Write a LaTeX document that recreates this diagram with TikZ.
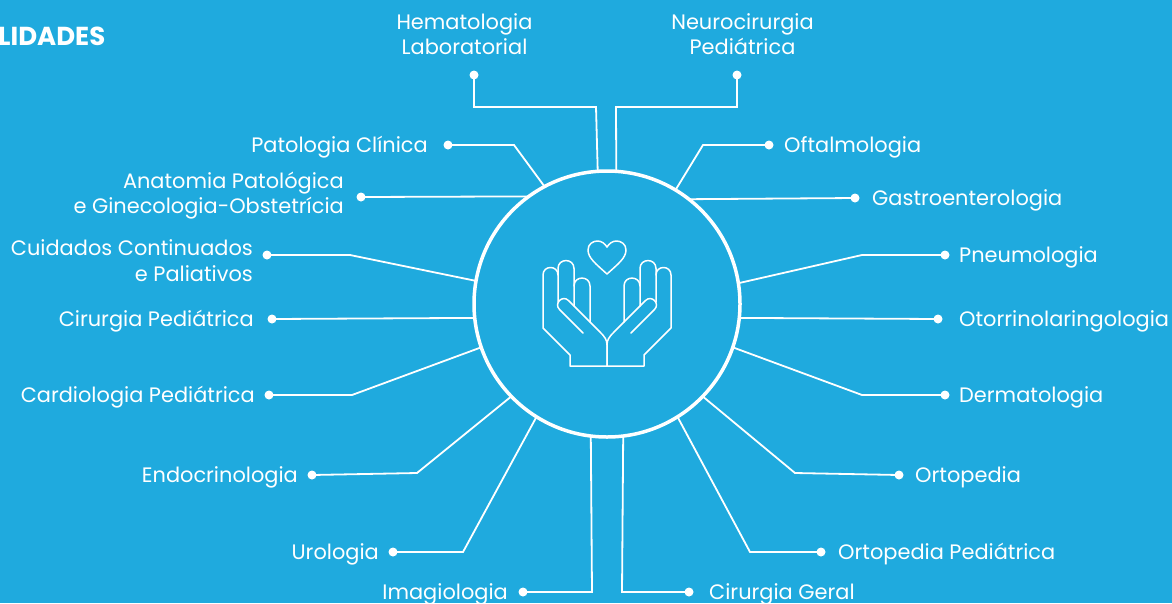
\documentclass[tikz,border=0pt]{standalone}
\usepackage{fontspec}
\setmainfont{Poppins}
\definecolor{bg}{RGB}{31,170,222}
\begin{document}
\begin{tikzpicture}[x=1pt,y=-1pt,
  lbl/.style={text=white, inner sep=0pt, font=\fontsize{20.9}{25}\selectfont},
  conn/.style={draw=white, line width=1.8pt, line join=miter},
  dotnode/.style={circle, fill=white, minimum size=9pt, inner sep=0pt},
  iconline/.style={draw=white, line width=1.5pt, line join=round, line cap=round},
  handpic/.pic={
    \draw[iconline] (607,366) -- (570,366) -- (570,355) -- (543,328) -- (543,275) .. controls (543,265) and (558,265) .. (558,275);
    \draw[iconline] (558,302) -- (558,268.5) .. controls (558,257.9) and (574,257.9) .. (574,268.5) -- (574,306);
    \draw[iconline] (574,286) .. controls (574,275.4) and (590,275.4) .. (590,286) -- (590,322);
    \draw[iconline] (583,333) -- (559.5,309.5) .. controls (553.5,303.5) and (562.5,294.5) .. (568.5,300.5) -- (600,332) .. controls (605,337) and (607,340) .. (607,345) -- (607,366);
  }]
\fill[bg] (0,0) rectangle (1172,603);
\useasboundingbox (0,0) rectangle (1172,603);

% title
\node[text=white, inner sep=0pt, anchor=base west, font=\fontsize{26}{30}\selectfont\bfseries] (title) at (-2,45) {LIDADES};

% hub
\node[circle, draw=white, line width=3.5pt, minimum size=266pt, inner sep=0pt, outer sep=0pt] (hub) at (607,304) {};

% icon
\pic {handpic};
\pic[xshift=1214pt, xscale=-1] {handpic};
\draw[iconline] (607,274) .. controls (596,264) and (588,258) .. (588,250) .. controls (588,244) and (593,241) .. (597.5,241) .. controls (602,241) and (605,244) .. (607,247) .. controls (609,244) and (612,241) .. (616.5,241) .. controls (621,241) and (626,244) .. (626,250) .. controls (626,258) and (618,264) .. (607,274) -- cycle;

% dots
\node[dotnode] (dHem) at (474,75) {};
\node[dotnode] (dNeu) at (737,75) {};
\node[dotnode] (dPat) at (448,145) {};
\node[dotnode] (dAna) at (361,197) {};
\node[dotnode] (dCui) at (267,255) {};
\node[dotnode] (dCirP) at (272,319) {};
\node[dotnode] (dCar) at (269,395) {};
\node[dotnode] (dEnd) at (312,475) {};
\node[dotnode] (dUro) at (393,552) {};
\node[dotnode] (dIma) at (523,592) {};
\node[dotnode] (dCirG) at (689,592) {};
\node[dotnode] (dOrtP) at (821,552) {};
\node[dotnode] (dOrt) at (899,475) {};
\node[dotnode] (dDer) at (945,395) {};
\node[dotnode] (dOto) at (938,319) {};
\node[dotnode] (dPne) at (945,255) {};
\node[dotnode] (dGas) at (855,198) {};
\node[dotnode] (dOft) at (769,145) {};

% connectors
\draw[conn] (dHem.center) |- (596,107) -- (hub.94.8);
\draw[conn] (dNeu.center) |- (616,107) -- (hub.86.1);
\draw[conn] (dPat.center) -- (514,145) -- (hub.118.8);
\draw[conn] (dAna.center) -- (hub.126.4);
\draw[conn] (dCui.center) -- (350,255) -- (hub.170.7);
\draw[conn] (dCirP.center) -- (hub.186.5);
\draw[conn] (dCar.center) -- (352,395) -- (hub.199);
\draw[conn] (dEnd.center) -- (417,473) -- (hub.224.1);
\draw[conn] (dUro.center) -- (463,552) -- (hub.238.3);
\draw[conn] (dIma.center) -- (592,592) -- (hub.263.5);
\draw[conn] (dCirG.center) -- (622,592) -- (hub.-83.5);
\draw[conn] (dOrtP.center) -- (750,552) -- (hub.-58.1);
\draw[conn] (dOrt.center) -- (795,473) -- (hub.-44.4);
\draw[conn] (dDer.center) -- (862,395) -- (hub.-19.1);
\draw[conn] (dOto.center) -- (hub.-6.5);
\draw[conn] (dPne.center) -- (862,255) -- (hub.9.4);
\draw[conn] (dGas.center) -- (hub.52.8);
\draw[conn] (dOft.center) -- (703,145) -- (hub.59.6);

% labels
\node[lbl, align=center, anchor=base] (tHem) at (464.5,54.3) {Hematologia\\Laboratorial};
\node[lbl, align=center, anchor=base] (tNeu) at (742.5,54.5) {Neurocirurgia\\Pediátrica};
\node[lbl, anchor=base east] (tPat) at (428,152.5) {Patologia Clínica};
\node[lbl, align=right, anchor=base east, font=\fontsize{20.9}{24.5}\selectfont] (tAna) at (344,213.3) {Anatomia Patológica\\e Ginecologia-Obstetrícia};
\node[lbl, align=right, anchor=base east, font=\fontsize{20.9}{26.5}\selectfont] (tCui) at (253,281.7) {Cuidados Continuados\\e Paliativos};
\node[lbl, anchor=base east] (tCirP) at (254,326.5) {Cirurgia Pediátrica};
\node[lbl, anchor=base east] (tCar) at (255,402.5) {Cardiologia Pediátrica};
\node[lbl, anchor=base east] (tEnd) at (298,482.5) {Endocrinologia};
\node[lbl, anchor=base east] (tUro) at (379,559.5) {Urologia};
\node[lbl, anchor=base east] (tIma) at (508,599) {Imagiologia};
\node[lbl, anchor=base west] (tCirG) at (709,599) {Cirurgia Geral};
\node[lbl, anchor=base west] (tOrtP) at (838,559.5) {Ortopedia Pediátrica};
\node[lbl, anchor=base west] (tOrt) at (915,482.5) {Ortopedia};
\node[lbl, anchor=base west] (tDer) at (959,402.5) {Dermatologia};
\node[lbl, anchor=base west] (tOto) at (959,326.5) {Otorrinolaringologia};
\node[lbl, anchor=base west] (tPne) at (959,262.5) {Pneumologia};
\node[lbl, anchor=base west] (tGas) at (872,205.5) {Gastroenterologia};
\node[lbl, anchor=base west] (tOft) at (784,152.5) {Oftalmologia};
\end{tikzpicture}
\end{document}
